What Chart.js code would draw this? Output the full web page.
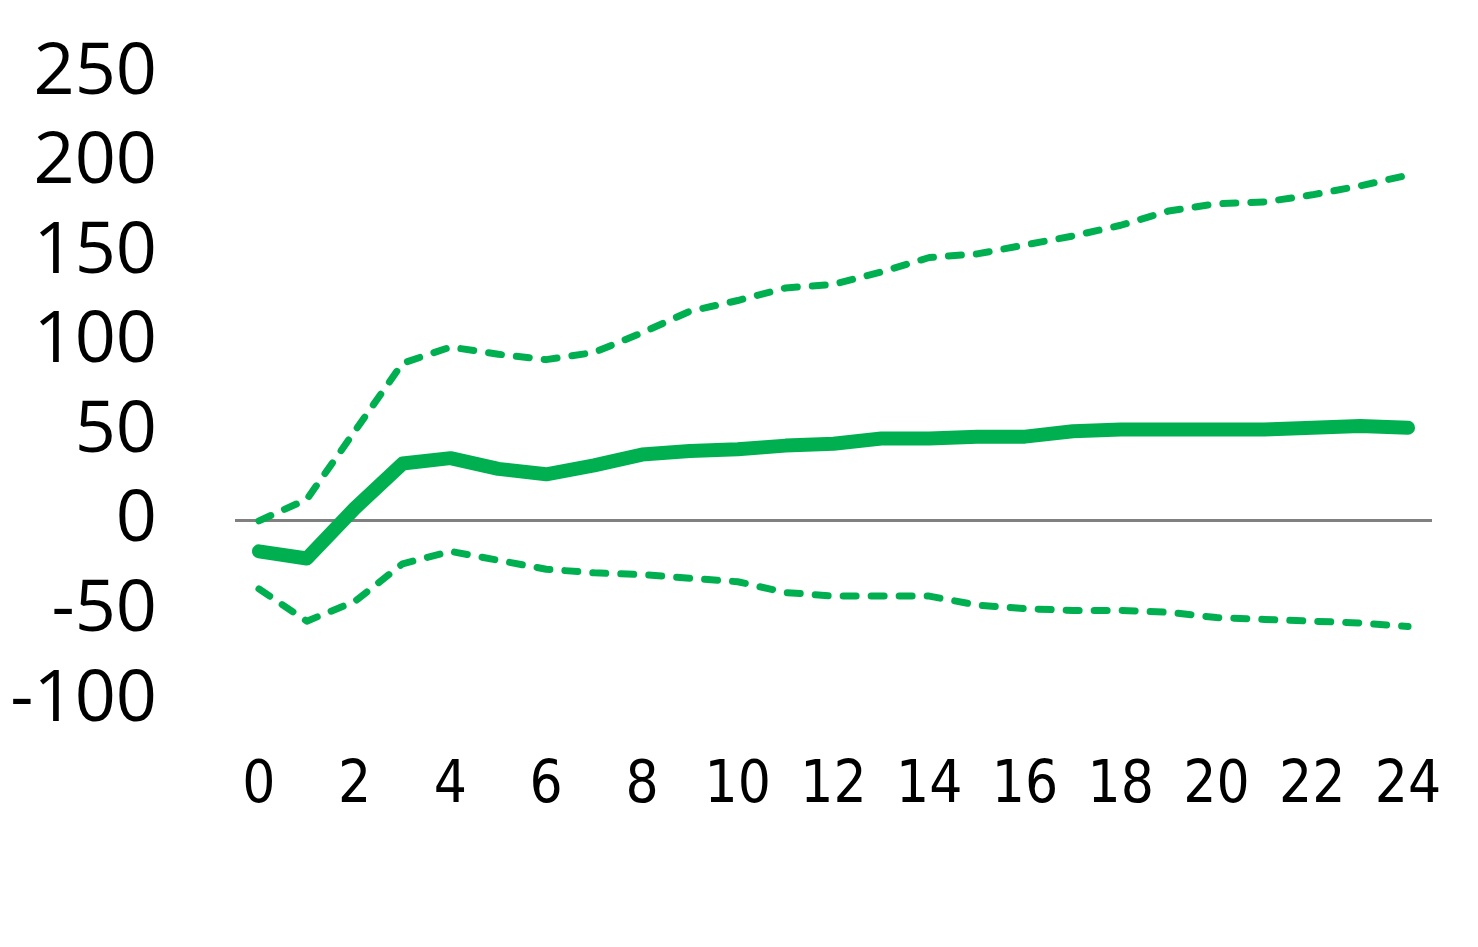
<!DOCTYPE html>
<html>
<head>
<meta charset="utf-8">
<script src="https://cdn.jsdelivr.net/npm/chart.js@4/dist/chart.umd.min.js"></script>
<style>
  html, body { margin: 0; padding: 0; background: #fff; }
  #wrap { width: 1478px; height: 947px; }
</style>
</head>
<body>
<div id="wrap"><canvas id="chart"></canvas></div>
<script>
// horizon 0..24
const periods = [0, 1, 2, 3, 4, 5, 6, 7, 8, 9, 10, 11, 12, 13, 14, 15, 16, 17, 18, 19, 20, 21, 22, 23, 24];

// point estimate and bands
const response = [-17, -21, 7, 32, 35, 29, 26, 31, 37, 39, 40, 42, 43, 46, 46, 47, 47, 50, 51, 51, 51, 51, 52, 53, 52];
const upperBand = [0, 12, 50, 88, 97, 93, 90, 94, 105, 117, 123, 130, 132, 139, 147, 149, 154, 159, 165, 173, 177, 178, 182, 187, 193];
const lowerBand = [-38, -56, -45, -24, -17, -22, -27, -29, -30, -32, -34, -40, -42, -42, -42, -47, -49, -50, -50, -51, -54, -55, -56, -57, -59];

const yTicks = [-100, -50, 0, 50, 100, 150, 200, 250];

const green = "#00B050";

const bandStyle = {
  borderColor: green,
  borderWidth: 7,
  borderDash: [13, 15],
  borderCapStyle: "round",
  borderJoinStyle: "round",
  pointRadius: 0,
  fill: false,
  tension: 0
};

new Chart(document.getElementById("chart"), {
  type: "line",
  data: {
    labels: periods,
    datasets: [
      {
        label: "upper",
        data: upperBand,
        ...bandStyle
      },
      {
        label: "response",
        data: response,
        borderColor: green,
        borderWidth: 14,
        borderCapStyle: "round",
        borderJoinStyle: "round",
        pointRadius: 0,
        fill: false,
        tension: 0
      },
      {
        label: "lower",
        data: lowerBand,
        ...bandStyle
      }
    ]
  },
  options: {
    responsive: true,
    maintainAspectRatio: false,
    animation: false,
    layout: { padding: { top: 73, right: 46, bottom: 0, left: 0 } },
    plugins: { legend: { display: false }, tooltip: { enabled: false } },
    scales: {
      x: {
        type: "category",
        offset: true,
        grid: { display: false, drawTicks: false },
        border: { display: false },
        ticks: {
          autoSkip: false,
          maxRotation: 0,
          padding: 52,
          color: "#000",
          font: { family: "'Liberation Sans Narrow', 'DejaVu Sans Condensed', sans-serif", size: 58 },
          callback: function (value, index) {
            return index % 2 === 0 ? periods[index] : "";
          }
        },
        afterFit: function (scale) {
          scale.height = 247;
          scale.paddingLeft = 0;
          scale.paddingRight = 0;
        }
      },
      y: {
        min: yTicks[0],
        max: yTicks[yTicks.length - 1],
        afterBuildTicks: function (scale) {
          scale.ticks = yTicks.map(v => ({ value: v }));
        },
        grid: {
          drawTicks: false,
          color: ctx => (ctx.tick && ctx.tick.value === 0 ? "#808080" : "rgba(0,0,0,0)"),
          lineWidth: ctx => (ctx.tick && ctx.tick.value === 0 ? 3 : 0)
        },
        border: { display: false },
        ticks: {
          autoSkip: false,
          padding: 78,
          color: "#000",
          font: { family: "'Open Sans', 'Noto Sans', sans-serif", size: 72 }
        },
        afterFit: function (scale) {
          scale.width = 235;
          scale.paddingTop = 0;
          scale.paddingBottom = 0;
        }
      }
    }
  }
});
</script>
</body>
</html>
